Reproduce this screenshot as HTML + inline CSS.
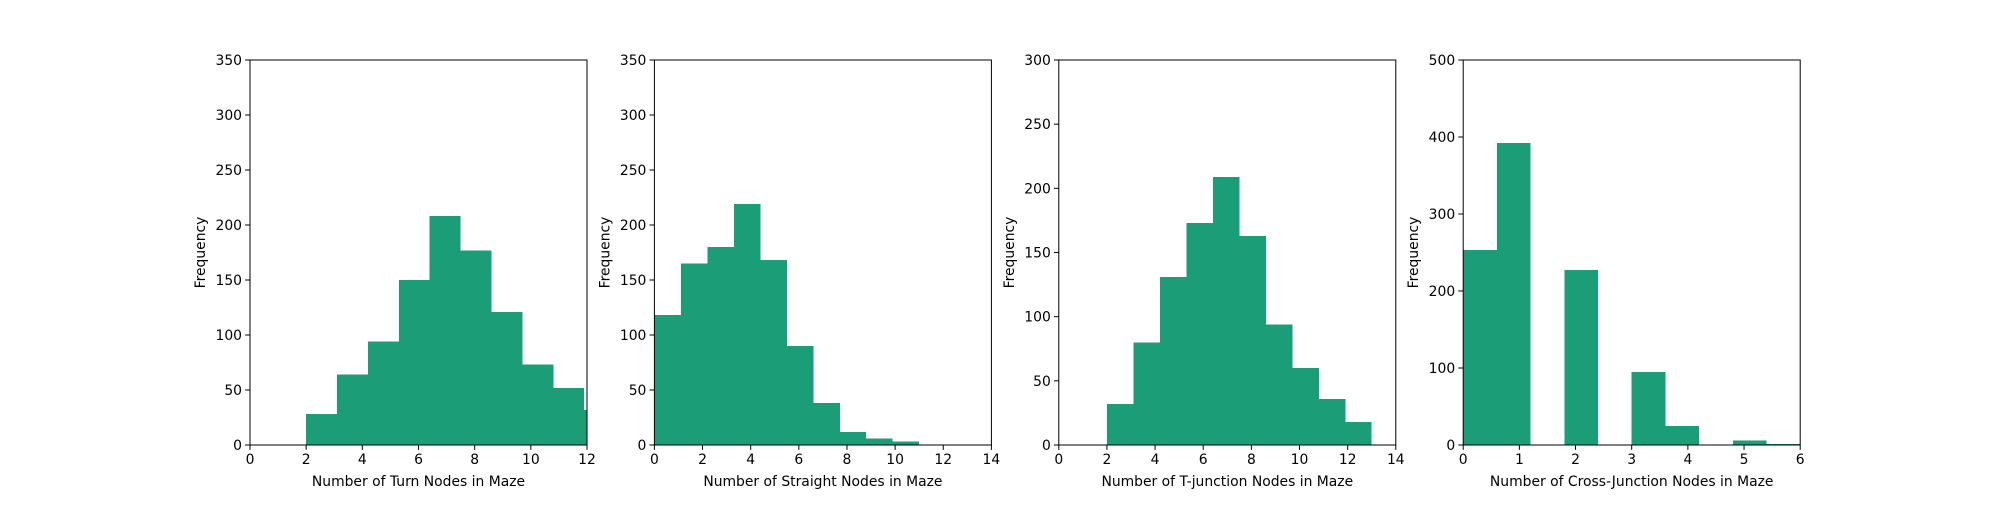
<!DOCTYPE html>
<html><head><meta charset="utf-8"><style>
body{margin:0;background:#fff}
svg text{font-family:"DejaVu Sans","Liberation Sans",sans-serif;font-size:13.9px;fill:#000}
</style></head><body>
<svg id="c" width="2000" height="500" xmlns="http://www.w3.org/2000/svg"></svg>
<script>
const turnCounts=[28,64,94,150,208,177,121,73,52,32];
const straightCounts=[118,165,180,219,168,90,38,12,6,3];
const tjunctionCounts=[32,80,131,173,209,163,94,60,36,18];
const crossCounts=[253,392,0,227,0,95,25,0,6,1];
const turnRange=[2,13];
const straightRange=[0,11];
const tjunctionRange=[2,13];
const crossRange=[0,6];
const xLabels=["Number of Turn Nodes in Maze","Number of Straight Nodes in Maze","Number of T-junction Nodes in Maze","Number of Cross-Junction Nodes in Maze"];
const xMaxes=[12,14,14,6];
const yMaxes=[350,350,300,500];
const xSteps=[2,2,2,1];
const ySteps=[50,50,50,100];
const panels=[[turnCounts,turnRange],[straightCounts,straightRange],[tjunctionCounts,tjunctionRange],[crossCounts,crossRange]];
const svgEl=document.getElementById('c');
const NS='http://www.w3.org/2000/svg';
function mk(tag,attrs,parent){const e=document.createElementNS(NS,tag);for(const k in attrs)e.setAttribute(k,attrs[k]);(parent||svgEl).appendChild(e);return e;}
const lefts=[250,654.4,1058.8,1463.2],W=337,axTop=60,axBot=445;
panels.forEach((p,i)=>{
  const g=mk('g',{});
  
  
  const L=lefts[i];
  const xs=v=>L+v/xMaxes[i]*W;
  const ys=v=>axBot-v/yMaxes[i]*(axBot-axTop);
  const clip=mk('clipPath',{id:'cl'+i},g);
  mk('rect',{x:L,y:axTop,width:W,height:axBot-axTop},clip);
  const counts=p[0],range=p[1];
  const bw=(range[1]-range[0])/counts.length;
  counts.forEach((c,j)=>{
    if(c<=0)return;
    const x0=xs(range[0]+j*bw),x1=xs(range[0]+(j+1)*bw);
    const r=mk('rect',{x:x0,y:ys(c),width:x1-x0,height:axBot-ys(c),fill:'#1b9e77','shape-rendering':'crispEdges','clip-path':'url(#cl'+i+')'},g);
    
    
  });
  mk('rect',{x:L,y:axTop,width:W,height:axBot-axTop,fill:'none',stroke:'#000','stroke-width':1},g);
  for(let v=0;v<=xMaxes[i]+1e-9;v+=xSteps[i]){
    const x=xs(v);
    mk('line',{x1:x,x2:x,y1:axBot,y2:axBot+4.9,stroke:'#000'},g);
    const t=mk('text',{x:x,y:axBot+19,'text-anchor':'middle'},g);t.textContent=v;
    
    
  }
  for(let v=0;v<=yMaxes[i];v+=ySteps[i]){
    const y=ys(v);
    mk('line',{x1:L,x2:L-4.9,y1:y,y2:y,stroke:'#000'},g);
    const t=mk('text',{x:L-8,y:y+5,'text-anchor':'end'},g);t.textContent=v;
    
    
  }
  const xl=mk('text',{x:L+W/2,y:486,'text-anchor':'middle'},g);xl.textContent=xLabels[i];
  
  
  const yl=mk('text',{x:0,y:0,'text-anchor':'middle',transform:'translate('+(L-45)+','+((axTop+axBot)/2)+') rotate(-90)'},g);yl.textContent='Frequency';
  
  
});
</script>
</body></html>
